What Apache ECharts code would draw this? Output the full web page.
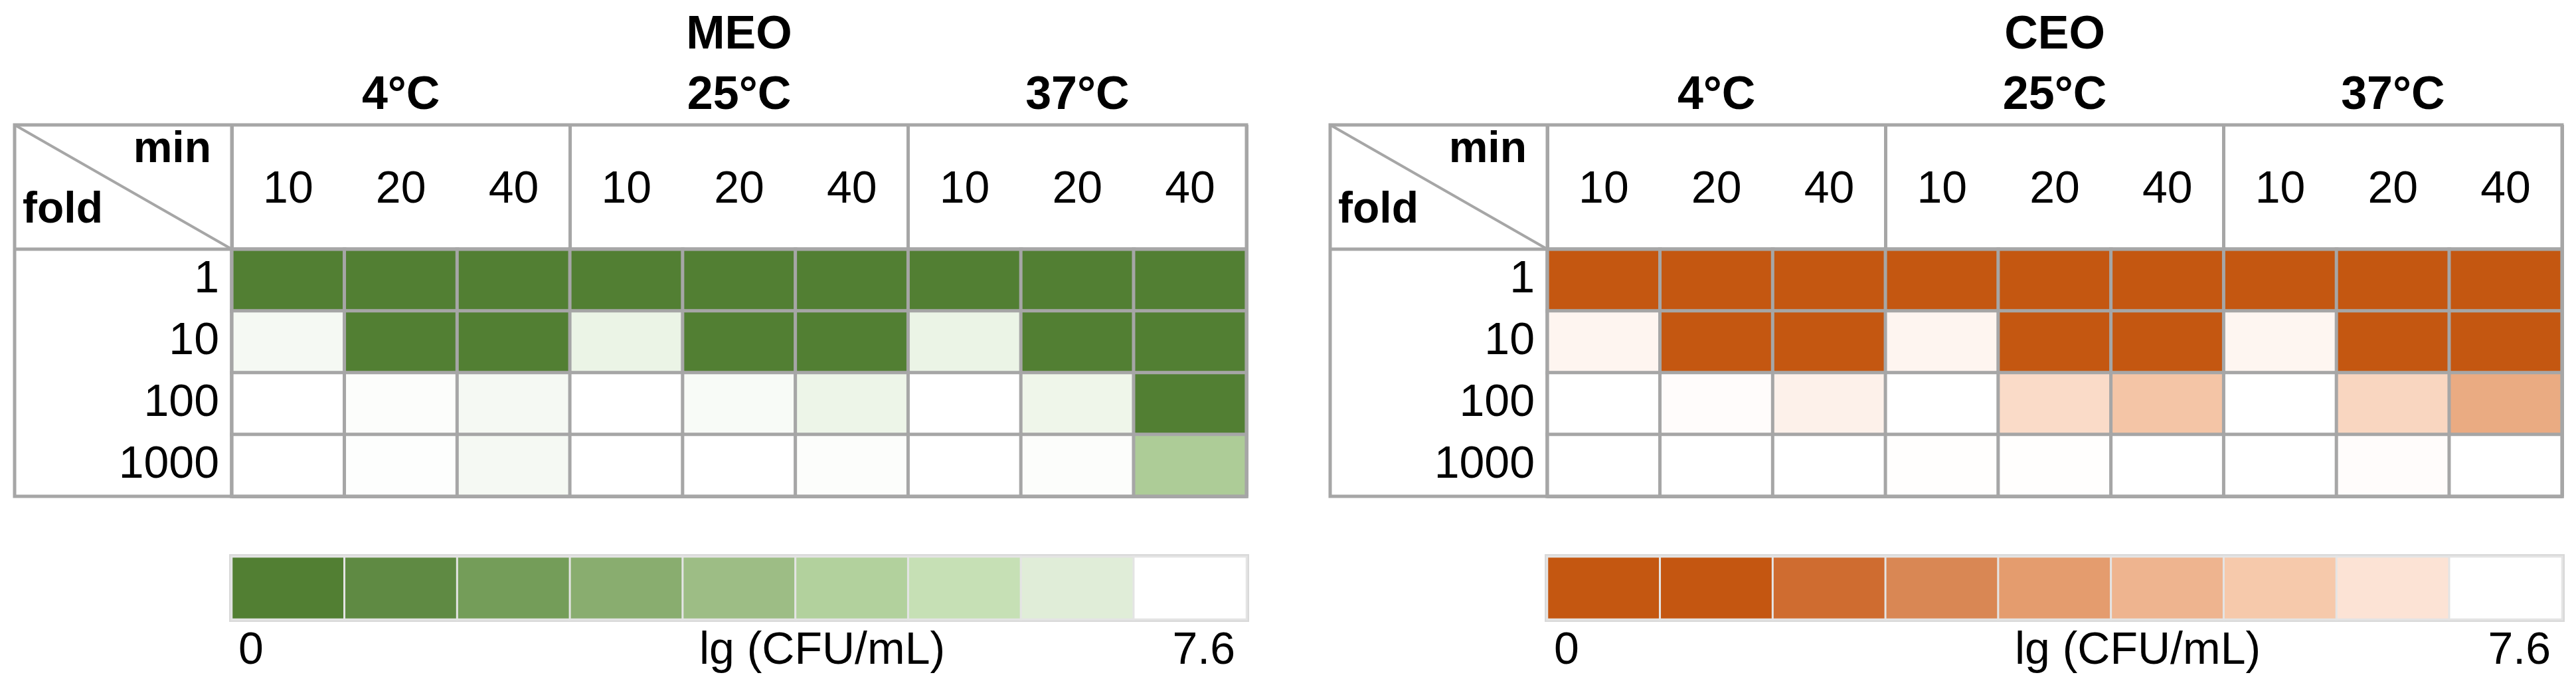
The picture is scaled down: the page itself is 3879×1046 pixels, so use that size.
<!DOCTYPE html>
<html>
<head>
<meta charset="utf-8">
<script src="https://cdn.jsdelivr.net/npm/echarts@6/dist/echarts.min.js"></script>
<style>
  html, body { margin: 0; padding: 0; background: #ffffff; }
  #chart { width: 3879px; height: 1046px; }
</style>
</head>
<body>
<div id="chart"></div>
<script>
// ---------------- data ----------------
const panelTitles = ['MEO', 'CEO'];
const temperatures = ['4°C', '25°C', '37°C'];
const minutes = ['10', '20', '40', '10', '20', '40', '10', '20', '40'];
const folds = ['1', '10', '100', '1000'];

// lg (CFU/mL), rows = fold 1, 10, 100, 1000 ; columns = 4°C(10,20,40) 25°C(10,20,40) 37°C(10,20,40)
const meoFold1    = [0, 0, 0, 0, 0, 0, 0, 0, 0];
const meoFold10   = [7.3, 0, 0, 7.0, 0, 0, 7.0, 0, 0];
const meoFold100  = [7.6, 7.5, 7.3, 7.6, 7.4, 7.05, 7.6, 7.1, 0];
const meoFold1000 = [7.6, 7.55, 7.3, 7.6, 7.6, 7.5, 7.6, 7.5, 4.52];

const ceoFold1    = [0, 0, 0, 0, 0, 0, 0, 0, 0];
const ceoFold10   = [7.25, 0, 0, 7.25, 0, 0, 7.28, 0, 0];
const ceoFold100  = [7.6, 7.5, 7.12, 7.6, 6.36, 5.52, 7.6, 6.17, 4.39];
const ceoFold1000 = [7.6, 7.6, 7.6, 7.55, 7.55, 7.6, 7.6, 7.5, 7.6];

// colour-scale legend steps and range
const scaleMin = 0;
const scaleMax = 7.6;
const scaleSteps = [0, 0.95, 1.9, 2.85, 3.8, 4.75, 5.7, 6.65, 7.6];
const scaleTitle = 'lg (CFU/mL)';

const greenColors  = ['#527f33', '#5f8a43', '#749d59', '#89ad6f', '#9dbd85', '#b2d19d', '#c6e0b5', '#e0edd8', '#ffffff'];
const orangeColors = ['#c45711', '#c45611', '#cf6c30', '#d98754', '#e49c6e', '#eeb48f', '#f6c9ab', '#fce3d5', '#ffffff'];

// ---------------- layout ----------------
const FONT = "'Liberation Sans', Arial, Helvetica, sans-serif";
const LINE = '#a6a6a6';
const LW = 5;
const panelLeft = [22, 2003];
const FRAME_TOP = 188;
const CORNER_W = 327;
const DATA_W = 1528;
const HEADER_H = 187;
const DATA_H = 372;
const CB_TOP = 838;
const CB_H = 94;

const panels = [
  { title: panelTitles[0], rows: [meoFold1, meoFold10, meoFold100, meoFold1000], colors: greenColors },
  { title: panelTitles[1], rows: [ceoFold1, ceoFold10, ceoFold100, ceoFold1000], colors: orangeColors }
];

const grid = [], xAxis = [], yAxis = [], series = [], visualMap = [], graphic = [];

panels.forEach((p, pi) => {
  const ox = panelLeft[pi];
  const dataLeft = ox + CORNER_W;
  const dataTop = FRAME_TOP + HEADER_H;

  // grids: data, header, colour bar
  grid.push({ left: dataLeft, top: dataTop, width: DATA_W, height: DATA_H, outerBoundsMode: 'none', containLabel: false });
  grid.push({ left: dataLeft, top: FRAME_TOP, width: DATA_W, height: HEADER_H, outerBoundsMode: 'none', containLabel: false });
  grid.push({ left: dataLeft, top: CB_TOP, width: DATA_W, height: CB_H, outerBoundsMode: 'none', containLabel: false,
              show: true, borderColor: '#d9d9d9', borderWidth: 8, backgroundColor: '#ffffff' });

  const gA = pi * 3, gB = pi * 3 + 1, gD = pi * 3 + 2;

  // x axes
  xAxis.push({
    type: 'category', gridIndex: gA, data: minutes, position: 'top',
    axisLine: { show: false }, axisTick: { show: false },
    axisLabel: { fontSize: 68, color: '#000', fontFamily: FONT, margin: 89, verticalAlign: 'middle', interval: 0 },
    splitLine: { show: true, interval: 0, lineStyle: { color: LINE, width: LW } }
  });
  xAxis.push({
    type: 'category', gridIndex: gB, data: temperatures, position: 'top',
    axisLine: { show: false }, axisTick: { show: false },
    axisLabel: { fontSize: 70, fontWeight: 'bold', color: '#000', fontFamily: FONT, margin: 43, verticalAlign: 'middle', interval: 0 },
    splitLine: { show: true, interval: 0, lineStyle: { color: LINE, width: LW } },
    name: p.title, nameLocation: 'middle', nameGap: 134, nameMoveOverlap: false,
    nameTextStyle: { fontSize: 70, fontWeight: 'bold', color: '#000', fontFamily: FONT, verticalAlign: 'middle' }
  });
  xAxis.push({
    type: 'category', gridIndex: gD, data: scaleSteps.map(String), show: false
  });
  xAxis.push({
    type: 'value', gridIndex: gD, position: 'bottom', min: scaleMin, max: scaleMax, interval: scaleMax,
    axisLine: { show: false }, axisTick: { show: false }, splitLine: { show: false },
    axisLabel: { fontSize: 68, color: '#000', fontFamily: FONT, margin: 48, verticalAlign: 'middle',
                 showMinLabel: true, showMaxLabel: true, alignMinLabel: 'left', alignMaxLabel: 'right',
                 padding: [0, 17, 0, 10],
                 formatter: v => (v === 0 ? '0' : v.toFixed(1)) },
    name: scaleTitle, nameLocation: 'middle', nameGap: 48, nameMoveOverlap: false,
    nameTextStyle: { fontSize: 68, color: '#000', fontFamily: FONT, verticalAlign: 'middle', padding: [0, 0, 0, 250] }
  });

  // y axes
  yAxis.push({
    type: 'category', gridIndex: gA, data: folds, inverse: true,
    axisLine: { show: false }, axisTick: { show: false },
    axisLabel: { fontSize: 68, color: '#000', fontFamily: FONT, margin: 19 },
    splitLine: { show: true, interval: 0, lineStyle: { color: LINE, width: LW } }
  });
  yAxis.push({ type: 'category', gridIndex: gB, data: [''], show: false });
  yAxis.push({ type: 'category', gridIndex: gD, data: [''], show: false });

  const xa = pi * 4, ya = pi * 3;

  const cells = [];
  p.rows.forEach((row, r) => row.forEach((v, c) => cells.push([c, r, v])));
  series.push({
    type: 'heatmap', xAxisIndex: xa, yAxisIndex: ya, data: cells,
    itemStyle: { borderColor: LINE, borderWidth: LW },
    emphasis: { disabled: true }, silent: true, label: { show: false }
  });
  series.push({
    type: 'heatmap', xAxisIndex: xa + 2, yAxisIndex: ya + 2,
    data: scaleSteps.map((v, i) => [i, 0, v]),
    itemStyle: { borderColor: '#e4e4e4', borderWidth: 3 },
    emphasis: { disabled: true }, silent: true
  });

  visualMap.push({
    type: 'continuous', show: false, min: scaleMin, max: scaleMax,
    seriesIndex: [pi * 2, pi * 2 + 1], inRange: { color: p.colors }
  });

  // table frame (decoration)
  const fw = CORNER_W + DATA_W, fh = HEADER_H + DATA_H;
  graphic.push(
    { type: 'rect', z: 100, silent: true, shape: { x: ox, y: FRAME_TOP, width: fw, height: fh },
      style: { fill: 'none', stroke: LINE, lineWidth: LW } },
    { type: 'line', z: 100, silent: true, shape: { x1: ox, y1: dataTop, x2: ox + fw, y2: dataTop },
      style: { stroke: LINE, lineWidth: LW } },
    { type: 'line', z: 100, silent: true, shape: { x1: dataLeft, y1: FRAME_TOP, x2: dataLeft, y2: FRAME_TOP + fh },
      style: { stroke: LINE, lineWidth: LW } },
    { type: 'line', z: 100, silent: true, shape: { x1: ox, y1: FRAME_TOP, x2: dataLeft, y2: dataTop },
      style: { stroke: LINE, lineWidth: 4 } },
    { type: 'text', z: 100, silent: true, x: ox + 296, y: 259,
      style: { text: 'min', font: 'bold 66px ' + FONT, fill: '#000', textAlign: 'right', textVerticalAlign: 'bottom', align: 'right', verticalAlign: 'bottom' } },
    { type: 'text', z: 100, silent: true, x: ox + 12, y: 350,
      style: { text: 'fold', font: 'bold 66px ' + FONT, fill: '#000', textAlign: 'left', textVerticalAlign: 'bottom', align: 'left', verticalAlign: 'bottom' } }
  );
});

const chart = echarts.init(document.getElementById('chart'), null, { renderer: 'canvas' });
chart.setOption({
  backgroundColor: '#ffffff',
  animation: false,
  textStyle: { fontFamily: FONT },
  grid, xAxis, yAxis, series, visualMap, graphic
});
</script>
</body>
</html>
